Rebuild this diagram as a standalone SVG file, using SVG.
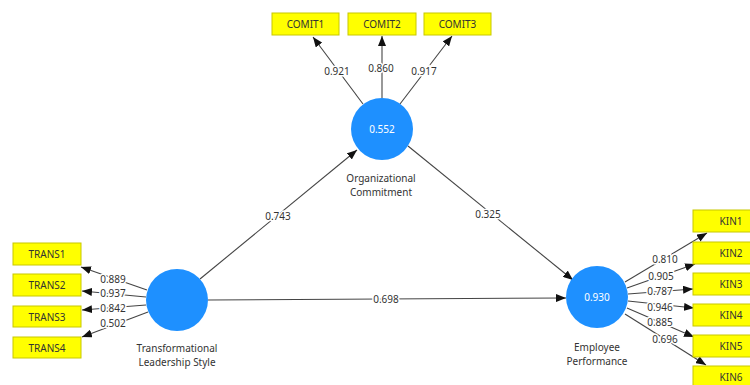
<svg xmlns="http://www.w3.org/2000/svg" width="750" height="385" viewBox="0 0 750 385">
<style>
.lv{fill:#1E90FF;}
.lvt{font-family:"Noto Sans","Open Sans",sans-serif;font-size:10px;fill:#ffffff;text-anchor:middle;dominant-baseline:central;}
.cap{font-family:"Noto Sans","Open Sans",sans-serif;font-size:10px;fill:#333;text-anchor:middle;}
.box{fill:#FFFF00;stroke:#c8c800;stroke-width:1;}
.bt{font-family:"Noto Sans","Open Sans",sans-serif;font-size:10px;fill:#333;text-anchor:middle;dominant-baseline:central;}
.ln{stroke:#444;stroke-width:1.1;fill:none;marker-end:url(#ah);}
.lb{font-family:"Noto Sans","Open Sans",sans-serif;font-size:10px;fill:#333;text-anchor:middle;dominant-baseline:central;stroke:#fff;stroke-width:3;paint-order:stroke;}
</style>
<defs>
<marker id="ah" markerUnits="userSpaceOnUse" markerWidth="10" markerHeight="8" refX="10" refY="4" orient="auto">
<path d="M0,0 L10,4 L0,8 z" fill="#111"/>
</marker>
</defs>
<rect width="750" height="385" fill="#fff"/>
<g id="connectors">
<line class="ln" x1="363" y1="104" x2="313" y2="37"/>
<line class="ln" x1="382" y1="98" x2="382" y2="36"/>
<line class="ln" x1="400" y1="104" x2="452" y2="36"/>
<line class="ln" x1="147" y1="290" x2="81" y2="267"/>
<line class="ln" x1="146" y1="297" x2="82" y2="291"/>
<line class="ln" x1="146" y1="305" x2="82" y2="310"/>
<line class="ln" x1="148" y1="312" x2="82" y2="337"/>
<line class="ln" x1="625" y1="282" x2="707" y2="233"/>
<line class="ln" x1="627" y1="288" x2="695" y2="264"/>
<line class="ln" x1="628" y1="294" x2="693" y2="289"/>
<line class="ln" x1="628" y1="301" x2="694" y2="308"/>
<line class="ln" x1="627" y1="308" x2="694" y2="337"/>
<line class="ln" x1="625" y1="314" x2="706" y2="365"/>
<line class="ln" x1="200" y1="279" x2="357" y2="150"/>
<line class="ln" x1="408" y1="146" x2="573" y2="280"/>
<line class="ln" x1="208" y1="300" x2="566" y2="298"/>
<text class="lb" x="337" y="71">0.921</text>
<text class="lb" x="381" y="68">0.860</text>
<text class="lb" x="424" y="71">0.917</text>
<text class="lb" x="113" y="279">0.889</text>
<text class="lb" x="113" y="293">0.937</text>
<text class="lb" x="113" y="308">0.842</text>
<text class="lb" x="113" y="323">0.502</text>
<text class="lb" x="665" y="259">0.810</text>
<text class="lb" x="661" y="276">0.905</text>
<text class="lb" x="660" y="291">0.787</text>
<text class="lb" x="660" y="307">0.946</text>
<text class="lb" x="660" y="322">0.885</text>
<text class="lb" x="665" y="339">0.696</text>
<text class="lb" x="278" y="216">0.743</text>
<text class="lb" x="488" y="214">0.325</text>
<text class="lb" x="386" y="299">0.698</text>
</g>
<g id="OC">
<circle class="lv" cx="382" cy="129" r="31"/>
<text class="lvt" x="382" y="129">0.552</text>
<text class="cap" x="381" y="182">Organizational</text>
<text class="cap" x="381" y="196">Commitment</text>
</g>
<g id="TLS">
<circle class="lv" cx="177" cy="300" r="31"/>
<text class="cap" x="177" y="352">Transformational</text>
<text class="cap" x="177" y="366">Leadership Style</text>
</g>
<g id="EP">
<circle class="lv" cx="597" cy="297" r="31"/>
<text class="lvt" x="597" y="297">0.930</text>
<text class="cap" x="597" y="351">Employee</text>
<text class="cap" x="597" y="365">Performance</text>
</g>
<g id="COMIT1"><rect class="box" x="272" y="13" width="67" height="22"/><text class="bt" x="305.5" y="24">COMIT1</text></g>
<g id="COMIT2"><rect class="box" x="348" y="13" width="68" height="22"/><text class="bt" x="382" y="24">COMIT2</text></g>
<g id="COMIT3"><rect class="box" x="424" y="13" width="67" height="22"/><text class="bt" x="457.5" y="24">COMIT3</text></g>
<g id="TRANS1"><rect class="box" x="13" y="243" width="68" height="22"/><text class="bt" x="47" y="254">TRANS1</text></g>
<g id="TRANS2"><rect class="box" x="13" y="274" width="68" height="22"/><text class="bt" x="47" y="285">TRANS2</text></g>
<g id="TRANS3"><rect class="box" x="13" y="306" width="68" height="21"/><text class="bt" x="47" y="316.5">TRANS3</text></g>
<g id="TRANS4"><rect class="box" x="13" y="337" width="68" height="21"/><text class="bt" x="47" y="347.5">TRANS4</text></g>
<g id="KIN1"><rect class="box" x="693" y="210" width="62" height="22"/><text class="bt" x="731" y="221">KIN1</text></g>
<g id="KIN2"><rect class="box" x="693" y="242" width="62" height="22"/><text class="bt" x="731" y="253">KIN2</text></g>
<g id="KIN3"><rect class="box" x="693" y="273" width="62" height="22"/><text class="bt" x="731" y="284">KIN3</text></g>
<g id="KIN4"><rect class="box" x="693" y="304" width="62" height="22"/><text class="bt" x="731" y="315">KIN4</text></g>
<g id="KIN5"><rect class="box" x="693" y="335" width="62" height="22"/><text class="bt" x="731" y="346">KIN5</text></g>
<g id="KIN6"><rect class="box" x="693" y="366" width="62" height="22"/><text class="bt" x="731" y="377">KIN6</text></g>
</svg>
